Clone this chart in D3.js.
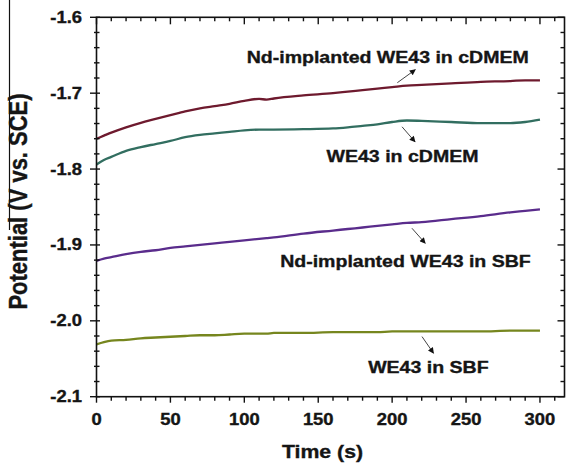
<!DOCTYPE html>
<html>
<head>
<meta charset="utf-8">
<script src="https://cdn.jsdelivr.net/npm/d3@7/dist/d3.min.js"></script>
<style>
  html, body { margin: 0; padding: 0; background: #fff; }
  svg { display: block; }
  text { font-family: "Liberation Sans", Arial, sans-serif; font-weight: bold; fill: #151515; stroke: #151515; stroke-width: 0.35px; }
</style>
</head>
<body>
<svg id="chart" width="567" height="467"></svg>
<script>
// Open-circuit potential over time
const times = [0, 5, 10, 20, 30, 40, 50, 60, 70, 80, 90, 100, 110, 115, 120, 140, 160, 170, 180, 190, 200, 210, 220, 240, 260, 280, 290, 300];

const ndCdmem = [-1.760, -1.756, -1.752, -1.745, -1.739, -1.734, -1.729, -1.724, -1.720, -1.717, -1.714, -1.710, -1.7075, -1.7085, -1.707, -1.703, -1.700, -1.698, -1.696, -1.694, -1.692, -1.690, -1.689, -1.687, -1.685, -1.684, -1.683, -1.683];
const we43Cdmem = [-1.794, -1.788, -1.784, -1.776, -1.771, -1.767, -1.763, -1.758, -1.755, -1.753, -1.751, -1.749, -1.748, -1.748, -1.748, -1.7475, -1.7465, -1.745, -1.743, -1.741, -1.738, -1.736, -1.7365, -1.738, -1.7395, -1.7395, -1.738, -1.735];
const ndSbf = [-1.921, -1.918, -1.916, -1.912, -1.909, -1.907, -1.904, -1.902, -1.900, -1.898, -1.896, -1.894, -1.892, -1.891, -1.890, -1.885, -1.881, -1.879, -1.877, -1.875, -1.873, -1.871, -1.870, -1.866, -1.862, -1.857, -1.855, -1.853];
const we43Sbf = [-2.031, -2.028, -2.026, -2.025, -2.023, -2.022, -2.021, -2.020, -2.019, -2.019, -2.018, -2.017, -2.017, -2.017, -2.016, -2.016, -2.015, -2.015, -2.015, -2.015, -2.014, -2.014, -2.014, -2.014, -2.014, -2.013, -2.013, -2.013];

const seriesNames = ["Nd-implanted WE43 in cDMEM", "WE43 in cDMEM", "Nd-implanted WE43 in SBF", "WE43 in SBF"];
const seriesValues = [ndCdmem, we43Cdmem, ndSbf, we43Sbf];
const seriesColors = ["#6e1a2e", "#326e60", "#5a2c8c", "#76861e"];

const xTicks = [0, 50, 100, 150, 200, 250, 300];
const yTicks = [-1.6, -1.7, -1.8, -1.9, -2.0, -2.1];

// Label placement: [anchor x, baseline y, arrow from (t, v), arrow to (t, v)] in data units
const labelSpots = [
  { x: 197, y: -1.6597, a0: [203.5, -1.6862], a1: [215.7, -1.6690] },
  { x: 207, y: -1.7907, a0: [206.7, -1.7443], a1: [215.5, -1.7641] },
  { x: 209, y: -1.9291, a0: [213.4, -1.8780], a1: [222.4, -1.8978] },
  { x: 224.5, y: -2.0687, a0: [220.2, -2.0208], a1: [228.0, -2.0427] }
];

const STRETCH = 1.15;
const svg = d3.select("#chart");

const x = d3.scaleLinear().domain([0, 316.6]).range([96.5, 564.5]);
const y = d3.scaleLinear().domain([-2.1, -1.6]).range([396.7, 17.3]);

const x0 = x.range()[0], x1 = x.range()[1];
const y0 = y.range()[0], y1 = y.range()[1];

// thin rule at the far left
svg.append("line")
  .attr("x1", 9.5).attr("x2", 9.5).attr("y1", 0).attr("y2", 230)
  .attr("stroke", "#111").attr("stroke-width", 1.2);

// curves
const line = d3.line()
  .x((d, i) => x(times[i]))
  .y(d => y(d))
  .curve(d3.curveMonotoneX);

seriesValues.forEach((vals, k) => {
  svg.append("path")
    .attr("d", line(vals))
    .attr("fill", "none")
    .attr("stroke", seriesColors[k])
    .attr("stroke-width", 2.3)
    .attr("stroke-linejoin", "round");
});

// frame + ticks
const frame = svg.append("g").attr("stroke", "#111").attr("fill", "none");
frame.append("rect")
  .attr("x", x0).attr("y", y1).attr("width", x1 - x0).attr("height", y0 - y1)
  .attr("stroke-width", 1.6);

const xMinor = d3.range(0, 317, 10);
const yMinor = d3.range(0, 26).map(i => -2.1 + i * 0.02);

xMinor.forEach(t => {
  const major = t % 50 === 0;
  const px = x(t);
  frame.append("line").attr("x1", px).attr("x2", px)
    .attr("y1", y0).attr("y2", y0 + (major ? 6 : 4)).attr("stroke-width", 1.4);
  frame.append("line").attr("x1", px).attr("x2", px)
    .attr("y1", y1).attr("y2", y1 + (major ? 7 : 4)).attr("stroke-width", 1.4);
});
yMinor.forEach((v, i) => {
  const major = i % 5 === 0;
  const py = y(v);
  frame.append("line").attr("y1", py).attr("y2", py)
    .attr("x1", x0 - (major ? 6.5 : 2.5)).attr("x2", x0 + (major ? 3.5 : 3)).attr("stroke-width", 1.4);
  frame.append("line").attr("y1", py).attr("y2", py)
    .attr("x1", x1).attr("x2", x1 - (major ? 7 : 4)).attr("stroke-width", 1.4);
});

// stretched text helper
function label(g, px, py, str, size, anchor, rotate) {
  const t = g.append("text")
    .attr("transform", `translate(${px},${py}) scale(${STRETCH},1)` + (rotate ? ` rotate(${rotate})` : ""))
    .attr("text-anchor", anchor)
    .style("font-size", size + "px")
    .text(str);
  return t;
}

const txt = svg.append("g");
xTicks.forEach(t => label(txt, x(t), 425, String(t), 16, "middle"));
yTicks.forEach(v => label(txt, 82, y(v) + 5.5, v.toFixed(1), 16, "end"));

label(txt, 322.5, 458, "Time (s)", 18.5, "middle");
label(txt, 27, 201.5, "Potential (V vs. SCE)", 22, "middle", -90);

// series annotations with pointer arrows
const defs = svg.append("defs");
defs.append("marker")
  .attr("id", "head").attr("viewBox", "0 0 10 10")
  .attr("refX", 9).attr("refY", 5)
  .attr("markerWidth", 7).attr("markerHeight", 6)
  .attr("markerUnits", "userSpaceOnUse")
  .attr("orient", "auto")
  .append("path").attr("d", "M0,0 L10,5 L0,10 Z").attr("fill", "#111");

labelSpots.forEach((s, k) => {
  label(txt, x(s.x), y(s.y), seriesNames[k], 17, "middle");
  svg.append("line")
    .attr("x1", x(s.a0[0])).attr("y1", y(s.a0[1]))
    .attr("x2", x(s.a1[0])).attr("y2", y(s.a1[1]))
    .attr("stroke", "#444").attr("stroke-width", 1)
    .attr("marker-end", "url(#head)");
});
</script>
</body>
</html>
